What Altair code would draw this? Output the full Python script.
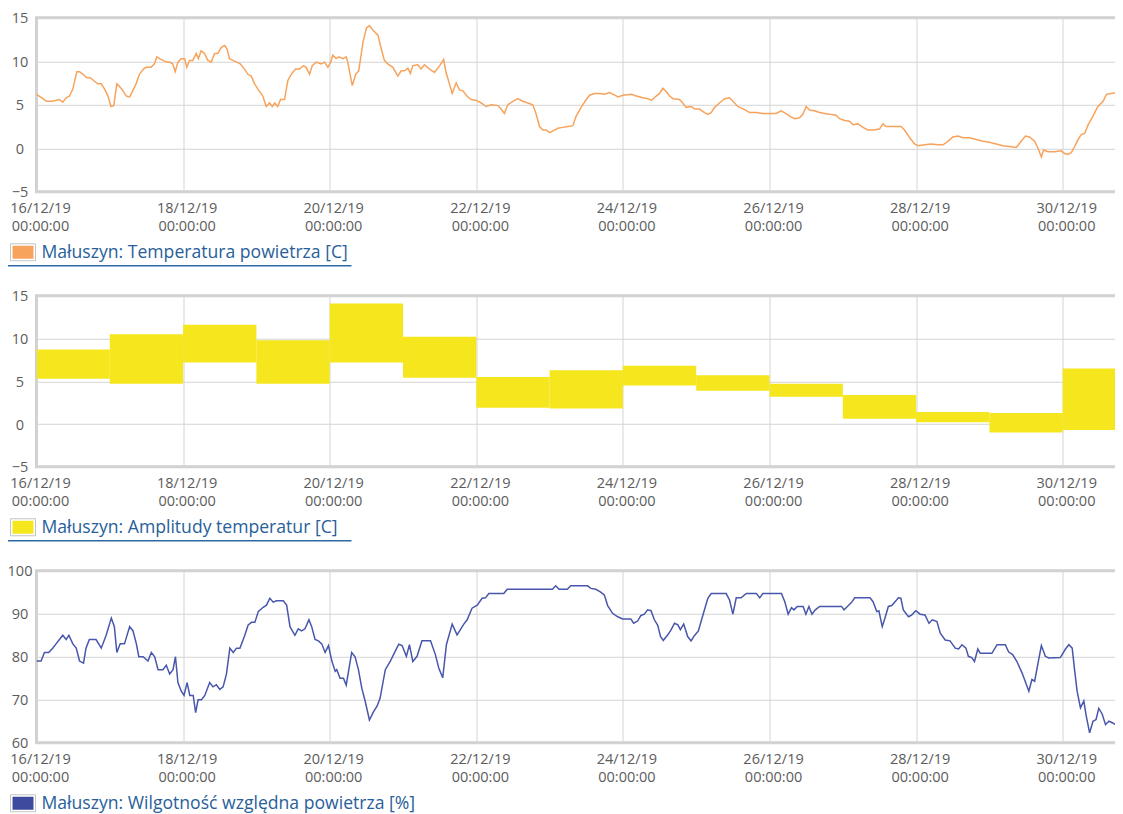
import altair as alt
import pandas as pd

START = "2019-12-16 00:00"

# ---- temperature (hours after start, degC)
temp_hours = [0, 2.1, 3.2, 5.3, 7.5, 8.6, 9.7, 10.8, 11.9, 13.2, 14.1, 15.2, 16.5, 17.6, 19.0, 20.1,
              21.2, 22.3, 23.4, 24.4, 25.3, 26.3, 27.2, 28.1, 29.4, 30.5, 31.5, 32.6, 33.7, 35.0, 35.9,
              37.5, 38.6, 39.4, 40.3, 41.4, 42.5, 43.5, 44.6, 45.4, 46.3, 47.4, 48.5, 49.2, 50.1, 51.2,
              52.3, 53.0, 53.9, 55.0, 56.1, 57.2, 58.3, 59.4, 60.5, 61.6, 62.4, 63.2, 64.3, 65.6, 66.7,
              68.1, 69.2, 70.3, 71.4, 72.5, 74.1, 75.2, 76.3, 77.2, 78.0, 79.0, 79.9, 81.2, 82.3, 83.4,
              84.8, 86.1, 87.4, 88.3, 89.4, 90.3, 91.6, 93.2, 94.3, 95.4, 96.3, 97.0, 98.1, 99.0, 100.3,
              101.4, 101.9, 103.4, 104.5, 105.5, 106.9, 108.0, 109.0, 110.1, 111.8, 112.9, 113.9, 115.0,
              116.7, 118.3, 119.4, 120.5, 121.6, 122.4, 123.2, 124.9, 125.9, 127.0, 128.7, 130.3, 132.0,
              133.3, 134.1, 135.2, 136.1, 137.4, 138.5, 139.6, 140.9, 142.3, 144.0, 145.6, 147.2, 148.9,
              151.1, 152.1, 153.2, 154.3, 156.0, 157.6, 159.2, 160.9, 162.5, 163.6, 164.7, 165.8, 166.9,
              168.0, 169.1, 170.7, 172.3, 174.0, 175.6, 176.7, 178.3, 180.0, 181.1, 182.7, 184.3, 186.0,
              187.6, 189.3, 190.4, 192.0, 194.7, 196.4, 198.5, 200.2, 201.3, 202.9, 204.0, 205.1, 206.2,
              207.3, 208.4, 210.5, 211.6, 212.7, 214.4, 215.5, 217.1, 218.7, 219.8, 220.9, 222.0, 223.6,
              225.3, 226.9, 228.0, 229.6, 231.5, 233.5, 235.6, 237.8, 240.0, 242.2, 243.8, 244.9, 246.6,
              248.2, 249.8, 250.9, 252.0, 253.1, 254.7, 256.4, 258.0, 259.7, 261.8, 262.9, 264.6, 266.2,
              267.3, 268.9, 270.6, 272.2, 273.9, 276.0, 277.1, 278.2, 280.4, 283.1, 284.2, 285.9, 287.5,
              288.6, 290.8, 292.9, 295.1, 296.8, 298.4, 300.0, 301.7, 303.3, 305.5, 307.7, 309.9, 312.0,
              314.2, 316.4, 318.6, 320.8, 322.4, 323.8, 325.1, 326.8, 327.9, 329.0, 329.7, 331.2, 333.3,
              335.5, 336.6, 337.7, 338.8, 339.9, 341.0, 342.1, 343.2, 344.3, 345.9, 347.5, 349.2, 350.3,
              351.9, 353.5, 355.6]
temp_values = [6.2, 5.7, 5.4, 5.4, 5.6, 5.3, 5.8, 6.0, 6.8, 8.8, 8.8, 8.5, 8.1, 8.1, 7.7, 7.4,
               7.4, 6.8, 6.0, 4.8, 4.9, 7.4, 7.1, 6.7, 6.0, 5.9, 6.6, 7.4, 8.5, 9.1, 9.3,
               9.3, 9.7, 10.5, 10.3, 10.1, 9.9, 9.9, 9.7, 8.8, 9.9, 10.3, 10.3, 9.3, 10.1, 10.1,
               10.9, 10.3, 11.2, 10.9, 10.1, 9.9, 10.9, 10.9, 11.6, 11.8, 11.4, 10.3, 10.1, 9.9, 9.7,
               9.1, 8.5, 8.3, 7.4, 6.8, 6.0, 4.8, 5.2, 4.8, 5.2, 4.8, 5.6, 5.6, 7.8, 8.5,
               9.1, 9.1, 9.5, 9.3, 8.5, 9.5, 9.9, 9.7, 9.9, 9.3, 9.9, 10.7, 10.3, 10.5, 10.3,
               10.5, 9.9, 7.2, 8.5, 8.9, 12.2, 13.8, 14.1, 13.6, 13.0, 11.4, 10.1, 9.7,
               9.3, 8.3, 8.9, 8.9, 9.2, 8.6, 9.5, 9.6, 9.1, 9.6, 9.1, 8.7, 9.5,
               10.2, 8.7, 7.4, 6.3, 7.5, 6.7, 6.6, 6.0, 5.6, 5.5, 5.2, 4.8, 5.0,
               4.9, 4.5, 4.0, 5.0, 5.4, 5.7, 5.4, 5.2, 5.0, 3.9, 2.5, 2.1, 2.1,
               1.8, 2.0, 2.3, 2.4, 2.5, 2.6, 3.7, 4.7, 5.6, 6.1, 6.3, 6.3, 6.2,
               6.4, 6.1, 5.9, 6.1, 6.2, 6.0, 5.8, 5.7, 5.5, 6.0, 6.3, 6.9, 6.5,
               6.0, 5.7, 5.6, 5.2, 4.7, 4.8, 4.5, 4.5, 4.1, 3.9, 4.1, 4.7, 5.2,
               5.7, 5.8, 5.4, 4.8, 4.5, 4.1, 4.1, 4.0, 4.0, 4.0, 4.3, 4.1, 3.7,
               3.4, 3.5, 3.9, 4.8, 4.4, 4.3, 4.1, 4.0, 3.9, 3.8, 3.4, 3.2, 3.1,
               2.7, 2.8, 2.4, 2.1, 2.1, 2.2, 2.8, 2.5, 2.5, 2.5, 2.1, 1.2, 0.5,
               0.3, 0.4, 0.5, 0.4, 0.4, 0.8, 1.3, 1.4, 1.2, 1.2, 1.0, 0.8, 0.7,
               0.5, 0.3, 0.2, 0.1, 0.8, 1.4, 1.3, 0.8, 0.0, -1.0, -0.2, -0.4, -0.4,
               -0.3, -0.6, -0.7, -0.5, 0.2, 1.0, 1.6, 1.7, 2.7, 3.7, 4.8, 5.4, 6.2,
               6.3, 6.4, 6.3]

# ---- daily temperature amplitude (min / max, degC)
amp_days = ["2019-12-16", "2019-12-17", "2019-12-18", "2019-12-19", "2019-12-20", "2019-12-21",
            "2019-12-22", "2019-12-23", "2019-12-24", "2019-12-25", "2019-12-26", "2019-12-27",
            "2019-12-28", "2019-12-29", "2019-12-30"]
amp_min = [5.3, 4.7, 7.2, 4.7, 7.2, 5.4, 1.9, 1.8, 4.5, 3.9, 3.2, 0.6, 0.2, -1.0, -0.7]
amp_max = [8.7, 10.5, 11.6, 9.8, 14.1, 10.2, 5.5, 6.3, 6.8, 5.7, 4.7, 3.4, 1.4, 1.3, 6.5]

# ---- relative humidity (hours after start, %)
hum_hours = [0.0, 1.5, 2.6, 4.0, 5.3, 6.4, 7.5, 8.6, 9.7, 10.6, 11.9, 13.0, 14.1, 15.4, 16.2, 17.3,
             19.5, 21.2, 22.8, 24.5, 25.5, 26.3, 27.4, 28.8, 30.5, 31.6, 32.7, 33.5, 34.9, 36.5, 37.6,
             38.7, 39.8, 41.4, 42.5, 43.6, 44.7, 45.5, 46.3, 47.4, 48.3, 49.3, 50.2, 51.3, 52.1, 52.9,
             54.0, 55.1, 56.7, 57.8, 58.9, 60.0, 61.1, 62.2, 63.3, 64.4, 65.5, 66.6, 68.2, 69.3, 70.4,
             71.5, 72.6, 74.2, 75.3, 76.4, 77.5, 78.6, 80.8, 81.9, 83.0, 84.6, 85.7, 86.8, 87.9, 89.2,
             90.1, 91.2, 92.3, 93.4, 94.5, 95.6, 96.7, 97.8, 98.3, 99.4, 100.5, 101.4, 103.2, 104.3,
             105.4, 106.5, 107.6, 109.0, 110.4, 111.5, 112.5, 114.2, 115.8, 116.9, 118.6, 119.7, 121.1,
             122.1, 123.2, 124.6, 126.2, 129.0, 130.6, 131.7, 133.0, 134.2, 136.1, 137.7, 139.9, 141.0,
             142.6, 144.3, 145.9, 147.0, 148.1, 153.0, 154.1, 168.9, 170.0, 171.1, 173.8, 174.9, 180.4,
             181.5, 183.1, 184.6, 185.9, 187.0, 188.6, 190.3, 191.9, 194.6, 195.5, 196.8, 197.9, 199.0,
             200.1, 201.2, 202.3, 203.4, 204.3, 205.2, 206.7, 207.8, 208.9, 210.0, 210.8, 211.9, 213.2,
             214.3, 215.4, 216.7, 218.2, 219.8, 220.9, 225.8, 226.9, 228.0, 229.1, 230.7, 232.4, 235.7,
             236.8, 237.8, 243.9, 245.0, 246.1, 247.2, 248.0, 249.1, 251.0, 251.9, 252.9, 253.9, 255.0,
             256.4, 263.6, 264.4, 265.5, 266.8, 267.9, 272.9, 273.9, 275.1, 275.8, 276.9, 277.8, 278.9,
             280.0, 281.1, 282.2, 283.0, 283.8, 285.5, 286.5, 287.9, 289.3, 290.9, 292.2, 293.3, 294.8,
             295.9, 297.5, 299.1, 300.8, 301.9, 303.0, 304.3, 305.1, 306.2, 307.1, 308.2, 309.0, 312.8,
             314.5, 317.2, 318.3, 319.6, 321.0, 322.7, 324.9, 325.9, 326.8, 327.8, 329.0, 330.3, 331.4,
             335.2, 336.9, 338.0, 339.1, 339.8, 340.7, 341.8, 342.9, 343.7, 344.8, 345.9, 346.9, 347.8,
             348.9, 350.0, 351.1, 352.4, 353.9, 354.9, 355.4]
hum_values = [79, 79, 81, 81, 82, 83, 84, 85, 84, 85, 83, 82, 79, 78.5, 82, 84,
              84, 82, 85, 89, 87, 81, 83, 83, 87, 86, 83, 80, 80, 79, 81,
              80, 77, 77, 78, 76, 77, 80, 74, 72, 71, 74, 71, 71, 67, 70,
              70, 71, 74, 73, 73.5, 72.4, 73, 76, 82, 81, 82, 82, 85, 87.4, 88,
              88, 90.5, 91.5, 92, 93.6, 92.7, 93, 93, 92, 87, 85, 86.5, 86, 86.5, 88.6,
              87, 84, 83.7, 83, 81, 82.6, 79, 76.6, 77, 75, 75, 73.4, 81, 80,
              77, 72.7, 69.7, 65.3, 67.3, 68.5, 70.4, 77, 78.9, 80.5, 82.9, 82.6, 80.1,
              82.8, 78.9, 80.1, 83.7, 83.7, 80.5, 77.4, 75.1, 82.8, 87.6, 85.1, 87.6, 88.6,
              91.3, 92, 93.6, 93.7, 94.7, 94.7, 95.7, 95.7, 96.5, 95.7, 95.7, 96.5, 96.5,
              95.9, 95.7, 95.1, 94.4, 91.9, 90.1, 89.3, 88.8, 88.8, 87.8, 88.3, 89.6, 89.9,
              90.9, 90.7, 88.6, 87.3, 84.7, 83.8, 85.1, 86.3, 87.8, 87.4, 86.3, 87.6, 84.7,
              83.7, 84.9, 86, 89.7, 93.6, 94.7, 94.7, 93.2, 89.9, 93.7, 93.7, 94.7, 94.7,
              93.7, 94.7, 94.7, 92.8, 89.9, 91.4, 90.9, 91.7, 91.7, 89.9, 91.7, 89.9, 90.9,
              91.7, 91.7, 90.9, 91.7, 92.6, 93.7, 93.7, 92.8, 90.5, 90.7, 87, 89, 91.7,
              91.9, 92.8, 93.7, 93.6, 90.9, 89.3, 89.7, 90.7, 89.9, 89.7, 87.8, 88.6, 88.2,
              85.5, 83.9, 83.7, 82, 81.8, 82.8, 82, 80.1, 79.8, 78.9, 81.8, 80.8, 80.8,
              82.8, 82.8, 81.1, 80.5, 78.9, 76.2, 72, 74.7, 74.3, 78.1, 82.6, 80.1, 79.7,
              79.8, 81.8, 82.8, 82, 77.4, 72, 68.1, 69.7, 66.2, 62.3, 65, 65.4, 68,
              66.7, 64.2, 65, 64.6, 63.9, 61.2, 60.8]

tick_days = ["2019-12-16", "2019-12-18", "2019-12-20", "2019-12-22",
             "2019-12-24", "2019-12-26", "2019-12-28", "2019-12-30"]
temp_ticks = [-5, 0, 5, 10, 15]
hum_ticks = [60, 70, 80, 90, 100]
legend_labels = ["Małuszyn: Temperatura powietrza [C]",
                 "Małuszyn: Amplitudy temperatur [C]",
                 "Małuszyn: Wilgotność względna powietrza [%]"]

# ---- styles / layout
C_TEMP = "#f7a35c"
C_AMP = "#f5e61e"
C_HUM = "#4857ab"
C_HUM_SW = "#3e4a9e"
C_LEG_TEXT = "#28609a"
C_LEG_LINE = "#2d6aa3"
FONT = "Open Sans"
LABEL_SIZE = 14.5
LABEL_COLOR = "#5c5c5c"
PX_PER_DAY = 73.3
W = 1080
H1, H2, H3 = 174, 171, 172
GAP = 104

start = pd.Timestamp(START)


def to_time(hours):
    return (start + pd.to_timedelta(hours, unit="h")).round("min")


temp_df = pd.DataFrame({"time": to_time(temp_hours), "value": temp_values})
hum_df = pd.DataFrame({"time": to_time(hum_hours), "value": hum_values})
amp_df = pd.DataFrame({
    "start": pd.to_datetime(amp_days),
    "end": pd.to_datetime(amp_days) + pd.Timedelta(days=1),
    "min": amp_min,
    "max": amp_max,
})


def dt(ts):
    ts = pd.Timestamp(ts)
    return alt.DateTime(year=ts.year, month=ts.month, date=ts.day, hours=ts.hour, minutes=ts.minute)


x_end = start + pd.Timedelta(days=W / PX_PER_DAY)
x_scale = alt.Scale(domain=[dt(start), dt(x_end)], nice=False)
x_axis = alt.Axis(
    values=[dt(d) for d in tick_days],
    labelExpr="[timeFormat(datum.value, '%d/%m/%y'), timeFormat(datum.value, '%H:%M:%S')]",
    labelLineHeight=18, labelBaseline="top", labelPadding=10, labelOffset=3.5,
    labelFlush=False, labelOverlap=False, title=None, grid=True,
    labelFont=FONT, labelFontSize=LABEL_SIZE, labelColor=LABEL_COLOR,
)


def y_axis(vals):
    return alt.Axis(values=vals, labelAlign="center", labelBaseline="middle", labelPadding=17,
                    labelOffset=1, title=None, grid=True,
                    labelFont=FONT, labelFontSize=LABEL_SIZE, labelColor=LABEL_COLOR)


def legend(h, label, color, left, dy):
    one = pd.DataFrame({"k": [0]})
    frame = alt.Chart(one).mark_rect(fill="white", stroke="#c4c4c4", strokeWidth=1).encode(
        x=alt.value(left + 3), x2=alt.value(left + 28), y=alt.value(h + 52), y2=alt.value(h + 69))
    sw = alt.Chart(one).mark_rect(fill=color).encode(
        x=alt.value(left + 5), x2=alt.value(left + 26), y=alt.value(h + 54), y2=alt.value(h + 67))
    txt = alt.Chart(one).mark_text(align="left", baseline="middle", font=FONT, fontSize=17.6,
                                   color=C_LEG_TEXT).encode(
        x=alt.value(left + 34), y=alt.value(h + 61), text=alt.value(label))
    line = alt.Chart(one).mark_rule(color=C_LEG_LINE, strokeWidth=1.5).encode(
        x=alt.value(left), x2=alt.value(left + 344), y=alt.value(h + dy))
    return [frame, sw, txt, line]


temp_line = alt.Chart(temp_df).mark_line(color=C_TEMP, strokeWidth=1.5, clip=True).encode(
    x=alt.X("time:T", scale=x_scale, axis=x_axis),
    y=alt.Y("value:Q", scale=alt.Scale(domain=[-5, 15], nice=False, zero=False), axis=y_axis(temp_ticks)),
)
p1 = alt.layer(temp_line, *legend(H1, legend_labels[0], C_TEMP, -29, 74)).properties(width=W, height=H1)

amp_rect = alt.Chart(amp_df).mark_rect(color=C_AMP, clip=True).encode(
    x=alt.X("start:T", scale=x_scale, axis=x_axis),
    x2="end:T",
    y=alt.Y("min:Q", scale=alt.Scale(domain=[-5, 15], nice=False, zero=False), axis=y_axis(temp_ticks)),
    y2="max:Q",
)
p2 = alt.layer(amp_rect, *legend(H2, legend_labels[1], C_AMP, -29, 74)).properties(width=W, height=H2)

hum_line = alt.Chart(hum_df).mark_line(color=C_HUM, strokeWidth=1.5, clip=True).encode(
    x=alt.X("time:T", scale=x_scale, axis=x_axis),
    y=alt.Y("value:Q", scale=alt.Scale(domain=[60, 100], nice=False, zero=False), axis=y_axis(hum_ticks)),
)
p3 = alt.layer(hum_line, *legend(H3, legend_labels[2], C_HUM_SW, -29, 74)).properties(width=W, height=H3)

chart = alt.vconcat(p1, p2, p3, spacing=GAP, bounds="flush").properties(
    padding={"left": -3.5, "top": 0.75, "right": -3.5, "bottom": 0}
).configure_view(
    stroke="#d0d0d0", strokeWidth=3
).configure_axis(
    gridColor="#d4d4d4", gridWidth=1, domain=False, ticks=False, tickSize=0,
)

chart.save("out.html", embed_options={"renderer": "svg", "actions": False})
